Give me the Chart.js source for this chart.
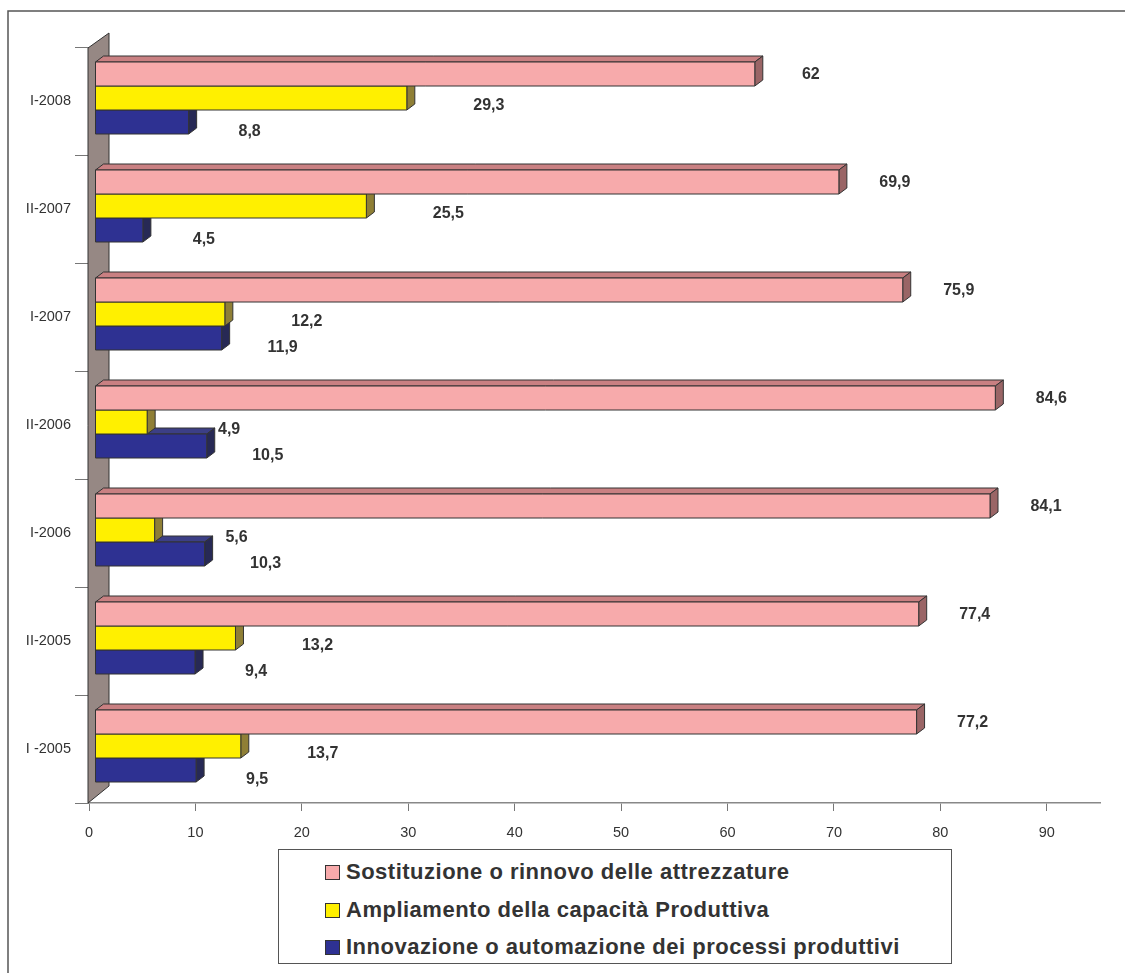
<!DOCTYPE html>
<html>
<head>
<meta charset="utf-8">
<script src="https://cdn.jsdelivr.net/npm/chart.js@4/dist/chart.umd.min.js"></script>
<style>
  body { margin: 0; background: #fff; }
  #wrap { position: relative; width: 1125px; height: 973px; }
  #legend {
    position: absolute; left: 278px; top: 849px; width: 672px; height: 113px;
    border: 1px solid #555; background: #fff;
    font: bold 22px "Liberation Sans", Arial, sans-serif; color: #333; letter-spacing: 0.5px;
  }
  #legend .item { position: absolute; left: 46px; height: 24px; line-height: 24px; white-space: nowrap; }
  #legend .box { display: inline-block; width: 13px; height: 13px; border: 1px solid #333; margin-right: 6px; vertical-align: -1px; }
</style>
</head>
<body>
<div id="wrap">
  <canvas id="myChart" width="1125" height="973"></canvas>
  <div id="legend"></div>
</div>
<script>
const periods = ['I-2008', 'II-2007', 'I-2007', 'II-2006', 'I-2006', 'II-2005', 'I -2005'];
const sostituzione = [62, 69.9, 75.9, 84.6, 84.1, 77.4, 77.2];
const ampliamento = [29.3, 25.5, 12.2, 4.9, 5.6, 13.2, 13.7];
const innovazione = [8.8, 4.5, 11.9, 10.5, 10.3, 9.4, 9.5];
const xTicks = [0, 10, 20, 30, 40, 50, 60, 70, 80, 90];

const seriesNames = [
  'Sostituzione o rinnovo delle attrezzature',
  'Ampliamento della capacità Produttiva',
  'Innovazione o automazione dei processi produttivi'
];
// front, top, side
const faces = [
  ['#f7aaab', '#c98082', '#9a6566'],
  ['#fff000', '#c9bd3a', '#8f7f36'],
  ['#2e3192', '#3c3f86', '#272955']
];

const ctx = document.getElementById('myChart');

// frame + wall + 3d bars + value labels
const depth = { dx: 8, dy: -6, shiftX: 6, shiftY: -3 };
const labelOff = [[56, -2], [82, 5], [61, 7]];

const chart3d = {
  id: 'chart3d',
  beforeDraw(chart) {
    const c = chart.ctx;
    c.save();
    c.fillStyle = '#fff';
    c.fillRect(0, 0, chart.width, chart.height);
    c.strokeStyle = '#555';
    c.lineWidth = 1.5;
    c.beginPath();
    c.moveTo(8, chart.height);
    c.lineTo(8, 11);
    c.lineTo(chart.width, 11);
    c.stroke();
    c.restore();
  },
  beforeDatasetsDraw(chart) {
    const c = chart.ctx;
    const a = chart.chartArea;
    c.save();
    c.fillStyle = '#968884';
    c.strokeStyle = '#333';
    c.lineWidth = 1;
    c.beginPath();
    c.moveTo(a.left - 1, a.top + 1);
    c.lineTo(a.left + 20, a.top - 14);
    c.lineTo(a.left + 20, a.bottom - 17);
    c.lineTo(a.left - 1, a.bottom);
    c.closePath();
    c.fill();
    c.stroke();
    c.restore();
  },
  afterDatasetsDraw(chart) {
    const c = chart.ctx;
    c.save();
    c.strokeStyle = '#333';
    c.lineWidth = 1;
    c.lineJoin = 'round';
    for (let d = chart.data.datasets.length - 1; d >= 0; d--) {
      const meta = chart.getDatasetMeta(d);
      meta.data.forEach((bar) => {
        const p = bar.getProps(['x', 'y', 'base', 'height'], true);
        const x0 = p.base + depth.shiftX, x1 = p.x + depth.shiftX;
        const y0 = p.y - p.height / 2 + depth.shiftY, y1 = p.y + p.height / 2 + depth.shiftY;
        const dx = depth.dx, dy = depth.dy;
        const poly = (pts, col) => {
          c.fillStyle = col;
          c.beginPath();
          c.moveTo(pts[0][0], pts[0][1]);
          for (let i = 1; i < pts.length; i++) c.lineTo(pts[i][0], pts[i][1]);
          c.closePath();
          c.fill();
          c.stroke();
        };
        poly([[x0, y0], [x0 + dx, y0 + dy], [x1 + dx, y0 + dy], [x1, y0]], faces[d][1]);
        poly([[x1, y0], [x1 + dx, y0 + dy], [x1 + dx, y1 + dy], [x1, y1]], faces[d][2]);
        poly([[x0, y0], [x1, y0], [x1, y1], [x0, y1]], faces[d][0]);
      });
    }
    c.fillStyle = '#333';
    c.font = 'bold 16px "Liberation Sans", Arial, sans-serif';
    c.textAlign = 'center';
    c.textBaseline = 'middle';
    chart.data.datasets.forEach((ds, d) => {
      chart.getDatasetMeta(d).data.forEach((bar, i) => {
        const txt = String(ds.data[i]).replace('.', ',');
        c.fillText(txt, bar.x + depth.shiftX + labelOff[d][0], bar.y + labelOff[d][1]);
      });
    });
    c.restore();
  }
};

new Chart(ctx, {
  type: 'bar',
  data: {
    labels: periods,
    datasets: [
      { label: seriesNames[0], data: sostituzione, backgroundColor: 'rgba(0,0,0,0)' },
      { label: seriesNames[1], data: ampliamento, backgroundColor: 'rgba(0,0,0,0)' },
      { label: seriesNames[2], data: innovazione, backgroundColor: 'rgba(0,0,0,0)' }
    ]
  },
  options: {
    indexAxis: 'y',
    responsive: false,
    animation: false,
    events: [],
    layout: { padding: { top: 47, right: 25, left: 0, bottom: 0 } },
    datasets: { bar: { categoryPercentage: 72 / 108, barPercentage: 1, borderWidth: 0 } },
    scales: {
      x: {
        min: 0,
        max: 95,
        afterBuildTicks(scale) {
          scale.ticks = xTicks.map((v) => ({ value: v }));
        },
        afterFit(scale) { scale.height = 170; },
        ticks: {
          color: '#333',
          padding: 13,
          font: { family: '"Liberation Sans", Arial, sans-serif', size: 14.5 }
        },
        grid: { drawOnChartArea: false, tickLength: 8, color: '#777' },
        border: { color: '#888', width: 1.5 }
      },
      y: {
        afterFit(scale) { scale.width = 89; },
        ticks: {
          color: '#333',
          padding: 4,
          font: { family: '"Liberation Sans", Arial, sans-serif', size: 14.5 }
        },
        grid: { drawOnChartArea: false, tickLength: 14, color: '#777', offset: true },
        border: { display: false }
      }
    },
    plugins: {
      legend: { display: false },
      tooltip: { enabled: false }
    }
  },
  plugins: [chart3d]
});

// legend, built from the series names
const legend = document.getElementById('legend');
const rowTops = [10, 48, 85];
seriesNames.forEach((name, i) => {
  const el = document.createElement('div');
  el.className = 'item';
  el.style.top = rowTops[i] + 'px';
  el.innerHTML = '<span class="box" style="background:' + faces[i][0] + '"></span>' + name;
  legend.appendChild(el);
});
</script>
</body>
</html>
